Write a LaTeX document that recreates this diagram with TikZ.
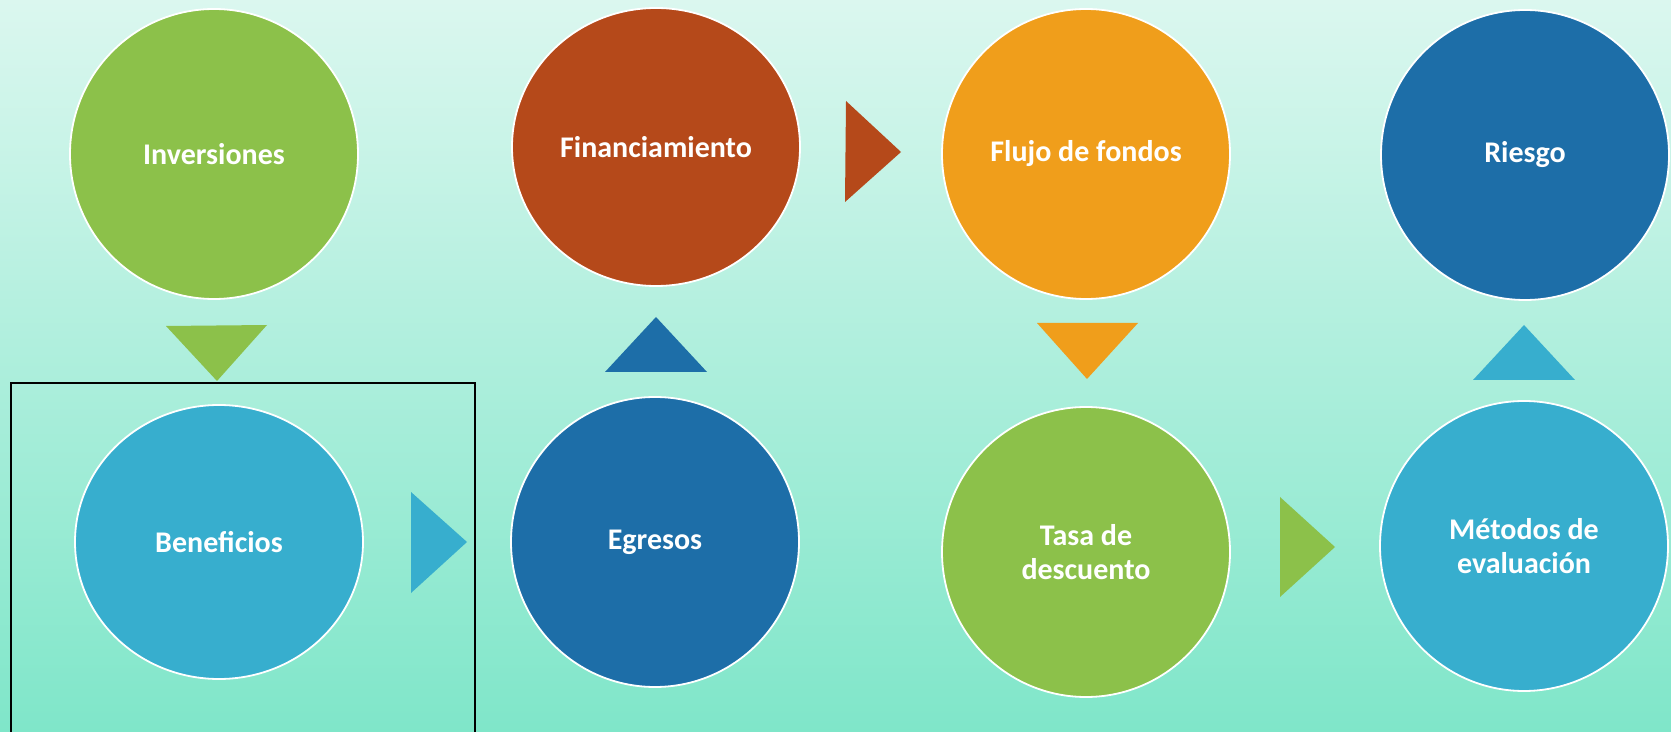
\documentclass[tikz,border=0pt]{standalone}
\usepackage{fontspec}
\setmainfont{Carlito}
\usepackage{tikz}
\usetikzlibrary{shapes.geometric}
\definecolor{cgreen}{RGB}{140,193,74}
\definecolor{cbrown}{RGB}{181,73,26}
\definecolor{corange}{RGB}{240,158,27}
\definecolor{cdblue}{RGB}{29,110,168}
\definecolor{clblue}{RGB}{55,174,206}
\definecolor{bgtop}{RGB}{219,247,239}
\definecolor{bgbot}{RGB}{127,230,201}

\begin{document}
\begin{tikzpicture}[x=0.5pt,y=-0.5pt,
bubble/.style={ellipse,draw=white,line width=0.9pt,minimum width=144pt,minimum height=145pt,
  text=white,align=center,font=\fontsize{15}{16.6}\selectfont\bfseries,inner sep=0pt},
flat/.style={minimum height=137pt}]
\useasboundingbox (0,0) rectangle (1671,732);
\clip (0,0) rectangle (1671,732);
% background
\shade[top color=bgtop,bottom color=bgbot] (0,0) rectangle (1671,732);
% the boxed item
\draw[black,line width=1pt] (11,383) rectangle (475,750);
% the bubbles
\foreach \name/\x/\y/\col/\txt in {inv/214/154/cgreen/Inversiones,
  flujo/1086/154/corange/Flujo de fondos,
  riesgo/1525/155/cdblue/Riesgo,
  egr/655/542/cdblue/Egresos,
  tasa/1086/552/cgreen/{Tasa de\\descuento},
  metodos/1524/546/clblue/{Métodos de\\evaluación}}
{
\node[bubble,fill=\col] (\name) at (\x,\y) {\txt};
}
\node[bubble,flat,fill=clblue] (ben) at (219,542) {Beneficios};
\node[bubble,flat,fill=cbrown,minimum height=139pt] (fin) at (656,147) {Financiamiento};
% the arrow heads
\fill[cgreen] (166,326) -- (267,325) -- (217,381) -- cycle;
\fill[clblue] (411,492) -- (411,593) -- (467,542) -- cycle;
\fill[cdblue] (605,372) -- (707,372) -- (656,317) -- cycle;
\fill[cbrown] (846,101) -- (845,202) -- (901,152) -- cycle;
\fill[corange] (1037,323) -- (1138,323) -- (1087,379) -- cycle;
\fill[cgreen] (1280,497) -- (1280,597) -- (1335,547) -- cycle;
\fill[clblue] (1473,380) -- (1575,380) -- (1524,325) -- cycle;
\end{tikzpicture}
\end{document}
